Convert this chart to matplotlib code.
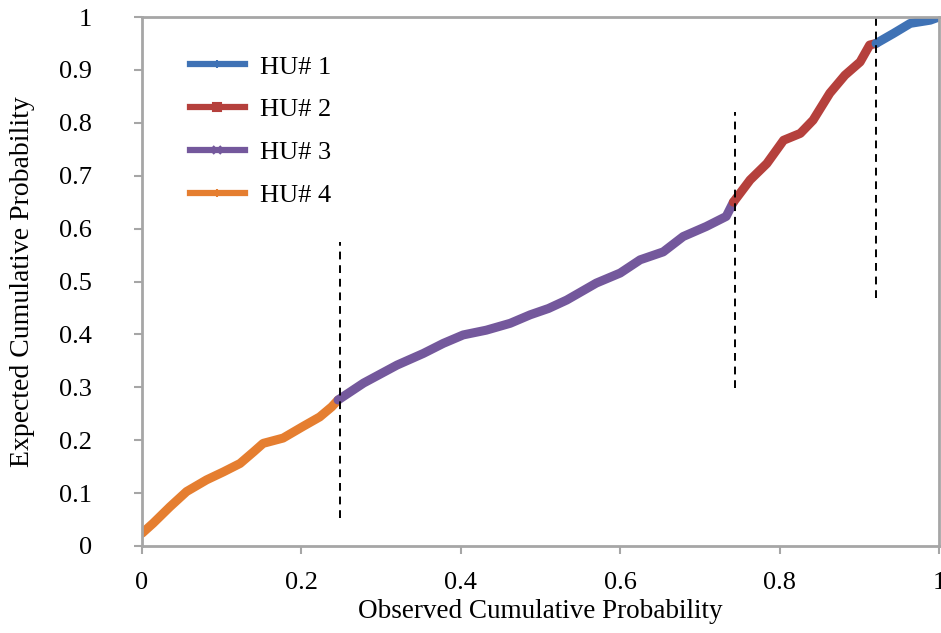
import matplotlib
matplotlib.use("Agg")
import matplotlib.pyplot as plt
from matplotlib.lines import Line2D

# HU# 4 (orange)
hu4_x = [0.0, 0.014, 0.035, 0.056, 0.081, 0.102, 0.123, 0.140, 0.152, 0.177, 0.202, 0.223, 0.238, 0.246]
hu4_y = [0.024, 0.043, 0.074, 0.103, 0.125, 0.140, 0.156, 0.178, 0.194, 0.204, 0.226, 0.244, 0.263, 0.276]
# HU# 3 (purple)
hu3_x = [0.246, 0.278, 0.320, 0.353, 0.378, 0.403, 0.432, 0.462, 0.487, 0.510, 0.533, 0.570,
         0.600, 0.625, 0.654, 0.679, 0.708, 0.733, 0.742]
hu3_y = [0.276, 0.308, 0.342, 0.364, 0.383, 0.399, 0.408, 0.421, 0.437, 0.449, 0.465, 0.497,
         0.516, 0.541, 0.556, 0.585, 0.604, 0.623, 0.650]
# HU# 2 (red)
hu2_x = [0.742, 0.763, 0.784, 0.805, 0.826, 0.842, 0.863, 0.882, 0.901, 0.913, 0.921]
hu2_y = [0.650, 0.692, 0.723, 0.767, 0.780, 0.805, 0.856, 0.890, 0.915, 0.947, 0.950]
# HU# 1 (blue)
hu1_x = [0.921, 0.943, 0.964, 0.989, 1.0]
hu1_y = [0.950, 0.969, 0.988, 0.994, 1.0]

# dashed separators: x, ymin, ymax
cuts_x = [0.248, 0.744, 0.921]
cuts_lo = [0.053, 0.299, 0.469]
cuts_hi = [0.575, 0.820, 1.0]

colors = ["#3F72B5", "#B5403C", "#74589C", "#E57E30"]
names = ["HU# 1", "HU# 2", "HU# 3", "HU# 4"]
marks = ["|", "s", "x", "+"]

plt.rcParams["font.family"] = ["Liberation Serif", "DejaVu Serif"]

fig = plt.figure(figsize=(9.41, 6.33), dpi=100)
ax = fig.add_axes([142 / 941, 87 / 633, 797 / 941, 529 / 633])

series = [(hu1_x, hu1_y), (hu2_x, hu2_y), (hu3_x, hu3_y), (hu4_x, hu4_y)]
for (xs, ys), c in zip(series[::-1], colors[::-1]):
    ax.plot(xs, ys, color=c, lw=6.5, solid_capstyle="round", solid_joinstyle="round")

for x, lo, hi in zip(cuts_x, cuts_lo, cuts_hi):
    ax.plot([x, x], [lo, hi], color="black", lw=1.4, ls=(0, (4, 3)))

ax.set_xlim(0, 1)
ax.set_ylim(0, 1)
ax.set_xticks([0, 0.2, 0.4, 0.6, 0.8, 1])
ax.set_xticklabels(["0", "0.2", "0.4", "0.6", "0.8", "1"])
ax.set_yticks([i / 10 for i in range(11)])
ax.set_yticklabels(["0"] + ["0.%d" % i for i in range(1, 10)] + ["1"])
for s in ax.spines.values():
    s.set_color("#a6a6a6")
    s.set_linewidth(2)
ax.tick_params(colors="#a6a6a6", width=1.5, length=6, labelcolor="black", labelsize=19)
ax.tick_params(axis="x", pad=13)
ax.tick_params(axis="y", pad=30)
ax.set_xlabel("Observed Cumulative Probability", fontsize=19.5, labelpad=3)
ax.set_ylabel("Expected Cumulative Probability", fontsize=20, labelpad=17)

handles = [Line2D([], [], color=c, lw=4.5, marker=m, ms=6, mew=1.5, mec=c)
           for c, m in zip(colors, marks)]
ax.legend(handles, names, loc="upper left", bbox_to_anchor=(0.060, 0.928), frameon=False,
          fontsize=19, handlelength=2.08, handletextpad=0.57, labelspacing=0.73,
          borderpad=0, borderaxespad=0)

fig.savefig("out.png", dpi=100)
